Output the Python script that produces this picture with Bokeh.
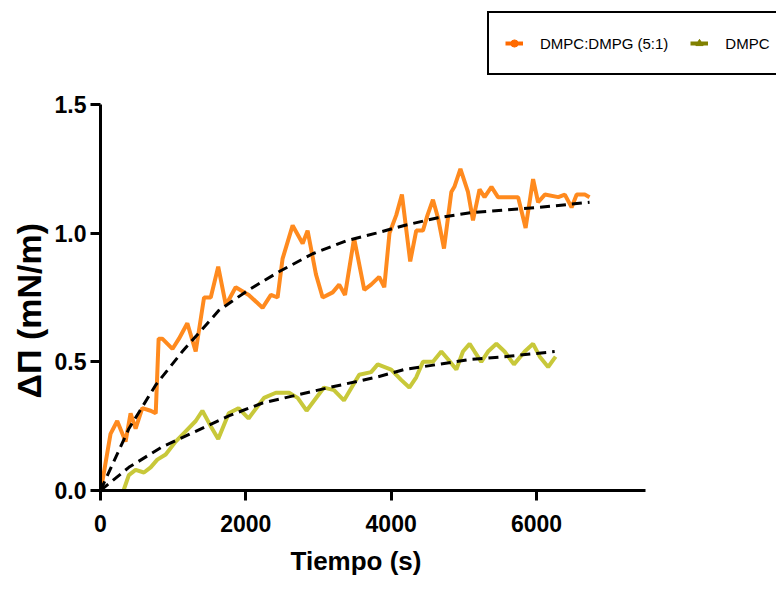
from bokeh.plotting import figure
from bokeh.models import Range1d, FixedTicker, Legend, LegendItem, NumeralTickFormatter, Title
from bokeh.embed import file_html
from bokeh.resources import INLINE

# ---- data ----
orange_t = [0, 23, 138, 230, 345, 414, 483, 575, 690, 760, 800, 850, 990, 1080, 1195, 1310,
            1425, 1517, 1620, 1725, 1860, 2040, 2230, 2345, 2437, 2505, 2644, 2782, 2850, 2965,
            3057, 3195, 3285, 3365, 3490, 3630, 3724, 3835, 3905, 3977, 4070, 4148, 4262, 4345,
            4437, 4500, 4575, 4644, 4727, 4828, 4870, 4953, 5057, 5126, 5216, 5285, 5380, 5470,
            5655, 5747, 5850, 5953, 6022, 6115, 6300, 6390, 6483, 6553, 6665, 6730]
orange_v = [0.02, 0.03, 0.22, 0.27, 0.19, 0.30, 0.24, 0.32, 0.31, 0.30, 0.59, 0.59, 0.55, 0.59, 0.65, 0.54,
            0.75, 0.75, 0.87, 0.72, 0.79, 0.76, 0.71, 0.76, 0.75, 0.90, 1.03, 0.96, 1.01, 0.84,
            0.75, 0.77, 0.80, 0.76, 0.98, 0.78, 0.80, 0.83, 0.79, 1.00, 1.07, 1.15, 0.89, 1.01,
            1.01, 1.07, 1.13, 1.06, 0.94, 1.16, 1.18, 1.25, 1.16, 1.05, 1.17, 1.14, 1.18, 1.14,
            1.14, 1.14, 1.02, 1.21, 1.12, 1.15, 1.14, 1.15, 1.10, 1.15, 1.15, 1.14]

green_t = [317, 390, 483, 598, 690, 782, 897, 1034, 1172, 1310, 1402, 1517, 1620, 1765, 1899,
           2037, 2250, 2413, 2595, 2713, 2836, 3075, 3213, 3350, 3560, 3724, 3815, 4000, 4137,
           4250, 4345, 4437, 4575, 4690, 4782, 4897, 4988, 5080, 5148, 5240, 5333, 5448, 5560,
           5690, 5838, 5953, 6045, 6160, 6263]
green_v = [0.00, 0.06, 0.08, 0.07, 0.09, 0.12, 0.14, 0.19, 0.23, 0.27, 0.31, 0.25, 0.20, 0.30, 0.32,
           0.28, 0.36, 0.38, 0.38, 0.36, 0.31, 0.40, 0.39, 0.35, 0.45, 0.46, 0.49, 0.47, 0.43,
           0.40, 0.44, 0.50, 0.50, 0.54, 0.51, 0.47, 0.54, 0.57, 0.54, 0.50, 0.54, 0.57, 0.54,
           0.49, 0.54, 0.57, 0.52, 0.48, 0.52]

fit_orange_t = [0, 390, 760, 1126, 1630, 2040, 2455, 2920, 3380, 3793, 4180, 4644, 5103, 5560, 6022, 6730]
fit_orange_v = [0, 0.24, 0.41, 0.54, 0.70, 0.78, 0.85, 0.92, 0.97, 1.00, 1.03, 1.06, 1.08, 1.09, 1.10, 1.12]

fit_green_t = [0, 390, 850, 1310, 1765, 2230, 2690, 3145, 3793, 4180, 4644, 5103, 5560, 6250]
fit_green_v = [0, 0.09, 0.17, 0.23, 0.29, 0.34, 0.37, 0.40, 0.44, 0.47, 0.49, 0.51, 0.52, 0.54]

x_ticks = [0, 2000, 4000, 6000]
y_ticks = [0.0, 0.5, 1.0, 1.5]
x_axis_max = 7500
y_axis_max = 1.5
x_title = "Tiempo (s)"
y_title = "ΔΠ (mN/m)"
series_labels = ["DMPC:DMPG (5:1)", "DMPC"]

ORANGE = "#FF8A1E"
GREEN = "#C8C83A"
LEG_ORANGE = "#FF6A00"
LEG_GREEN = "#808000"
FONT = "Liberation Sans"

# layout (pixels): the frame reaches the top and right edges so the legend can sit
# above/right of the drawn axes; axis lines are bounded to the data ranges.
W, H = 776, 589
LEFT, BOTTOM = 100, 99
AX_W, AX_H = 545, 386          # pixel length of the drawn x / y axes
frame_w, frame_h = W - LEFT, H - BOTTOM
x_end = x_axis_max * frame_w / AX_W
y_end = y_axis_max * frame_h / AX_H

p = figure(width=W, height=H, output_backend="svg", toolbar_location=None,
           x_range=Range1d(0, x_end), y_range=Range1d(0, y_end),
           min_border_left=LEFT, min_border_right=0, min_border_top=0, min_border_bottom=BOTTOM)
p.outline_line_color = None
p.grid.visible = False
p.background_fill_color = "white"

p.line(orange_t, orange_v, line_color=ORANGE, line_width=4)
p.line(green_t, green_v, line_color=GREEN, line_width=4)
p.line(fit_orange_t, fit_orange_v, line_color="black", line_width=3, line_dash="10 6")
p.line(fit_green_t, fit_green_v, line_color="black", line_width=3, line_dash="10 6")

# legend-only renderers (no visible data)
nan = float("nan")
lo = p.line(x=[nan], y=[nan], line_color=LEG_ORANGE, line_width=4)
so = p.scatter(x=[nan], y=[nan], marker="circle", size=11,
               fill_color=LEG_ORANGE, line_color=LEG_ORANGE)
lg = p.line(x=[nan], y=[nan], line_color=LEG_GREEN, line_width=4)
sg = p.scatter(x=[nan], y=[nan], marker="triangle", size=12,
               fill_color=LEG_GREEN, line_color=LEG_GREEN)

legend = Legend(items=[LegendItem(label=series_labels[0], renderers=[lo, so]),
                       LegendItem(label=series_labels[1], renderers=[lg, sg])],
                orientation="horizontal", location=(387, 415),
                label_text_font=FONT, label_text_font_size="15px", label_text_color="black",
                border_line_color="black", border_line_width=2.5, border_line_alpha=1.0,
                padding=16, spacing=22, label_standoff=17, glyph_width=18, glyph_height=28,
                label_height=28, margin=0, background_fill_alpha=1.0)
p.add_layout(legend)

for ax in (p.xaxis[0], p.yaxis[0]):
    ax.axis_line_width = 3
    ax.axis_line_color = "black"
    ax.major_tick_line_width = 3
    ax.major_tick_line_color = "black"
    ax.major_tick_out = 10
    ax.major_tick_in = 0
    ax.minor_tick_line_color = None
    ax.major_label_text_font = FONT
    ax.major_label_text_font_style = "bold"
    ax.major_label_text_font_size = "23px"
    ax.major_label_text_color = "black"

p.xaxis.bounds = (0, x_axis_max)
p.yaxis.bounds = (0, y_axis_max)
p.xaxis.ticker = FixedTicker(ticks=x_ticks)
p.yaxis.ticker = FixedTicker(ticks=y_ticks)
p.yaxis.formatter = NumeralTickFormatter(format="0.0")
p.xaxis.formatter = NumeralTickFormatter(format="0")
p.xaxis.major_label_standoff = 14
p.yaxis.major_label_standoff = 4

# axis titles as side-panel titles so they can be placed along the drawn axes
p.add_layout(Title(text=x_title, align="left", offset=190, standoff=18,
                   text_font=FONT, text_font_style="bold", text_font_size="26px",
                   text_color="black"), "below")
p.add_layout(Title(text=y_title, align="left", offset=92, standoff=8,
                   text_font=FONT, text_font_style="bold", text_font_size="34px",
                   text_color="black"), "left")

open("out.html", "w").write(file_html(p, INLINE))
